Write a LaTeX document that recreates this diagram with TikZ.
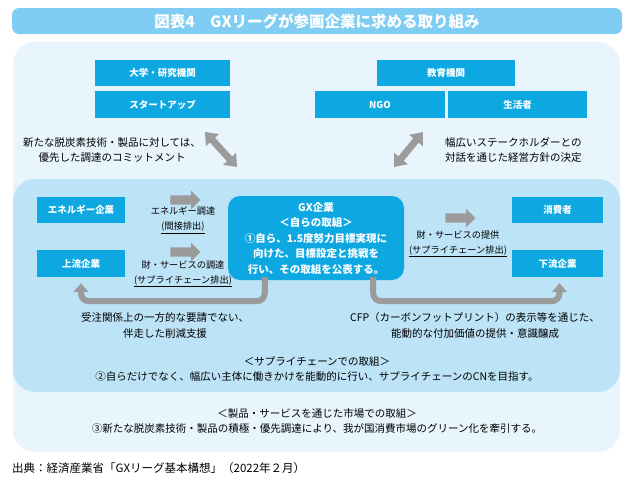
\documentclass[tikz,border=0pt]{standalone}
\usepackage{fontspec}
\setmainfont{Noto Sans CJK JP}
\usetikzlibrary{arrows.meta,shapes.arrows,calc}
\definecolor{boxblue}{HTML}{0DA8E2}
\definecolor{titleblue}{HTML}{7FCDF2}
\definecolor{outerbg}{HTML}{E8F5FD}
\definecolor{innerbg}{HTML}{BDE3F7}
\definecolor{arrgray}{HTML}{9B9B9B}
\begin{document}
\begin{tikzpicture}[x=1pt,y=-1pt,
  cbox/.style={fill=boxblue, text=white, font=\fontsize{9.5}{11}\selectfont\bfseries, inner sep=0pt, minimum height=26pt},
  txt/.style={font=\fontsize{10.5}{15.5}\selectfont, align=center, inner sep=0pt, text=black},
  flowtxt/.style={txt, font=\fontsize{9.2}{15}\selectfont},
  fatarrow/.style={single arrow, fill=arrgray, draw=none, minimum height=30pt, inner sep=0pt, inner ysep=4.5pt, single arrow head extend=4.5pt, single arrow head indent=0pt},
  dbl/.style={arrgray, line width=7pt, {Triangle[width=17pt,length=11pt]}-{Triangle[width=17pt,length=11pt]}},
  uarrow/.style={arrgray, line width=6pt, rounded corners=8pt, -{Triangle[width=15pt,length=9pt]}}
]
\useasboundingbox (0,0) rectangle (635,488);
\fill[white] (0,0) rectangle (635,488);
% panels
\fill[outerbg, rounded corners=22pt] (13,42) rectangle (620,452);
\fill[innerbg, rounded corners=22pt] (13,179) rectangle (620,392);
% title
\node[fill=titleblue, rounded corners=7pt, minimum width=610pt, minimum height=26pt, inner sep=0pt, text=white, font=\fontsize{15.5}{17}\selectfont\bfseries] (title) at (317,21) {図表4\quad GXリーグが参画企業に求める取り組み};
% top boxes
\node[cbox, minimum width=135pt] (univ) at (162.5,73) {大学・研究機関};
\node[cbox, minimum width=135pt, minimum height=27pt] (start) at (162.5,104.5) {スタートアップ};
\node[cbox, minimum width=138pt] (edu) at (446,73) {教育機関};
\node[cbox, minimum width=130pt, minimum height=27pt] (ngo) at (380,104.5) {NGO};
\node[cbox, minimum width=139pt, minimum height=27pt] (life) at (517.5,104.5) {生活者};
% top texts
\node[txt] (ltxt) at (112,150) {新たな脱炭素技術・製品に対しては、\\優先した調達のコミットメント};
\node[txt, align=left, anchor=west] (rtxt) at (445,150) {幅広いステークホルダーとの\\対話を通じた経営方針の決定};
% double arrows
\coordinate (la1) at (205,132);
\coordinate (la2) at (237,167);
\coordinate (ra1) at (423,132);
\coordinate (ra2) at (394,167);
\draw[dbl] (la1) -- (la2);
\draw[dbl] (ra1) -- (ra2);
% inner row
\node[cbox, minimum width=88pt] (ene) at (81,210) {エネルギー企業};
\node[cbox, minimum width=88pt, minimum height=27pt] (up) at (81,263.5) {上流企業};
\node[cbox, minimum width=91pt] (cons) at (557.5,210) {消費者};
\node[cbox, minimum width=91pt, minimum height=27pt] (down) at (557.5,263.5) {下流企業};
\node[fill=boxblue, rounded corners=12pt, minimum width=176pt, minimum height=84pt, inner sep=0pt, text=white, align=center, font=\fontsize{10.5}{15.5}\selectfont\bfseries] (gx) at (316,238) {GX企業\\＜自らの取組＞\\①自ら、1.5度努力目標実現に\\向けた、目標設定と挑戦を\\行い、その取組を公表する。};
% fat arrows
\node[fatarrow] (a1) at (183,200) {};
\node[fatarrow] (a2) at (183,252) {};
\node[fatarrow] (a3) at (458,218) {};
\node[flowtxt] (t1) at (183,220) {エネルギー調達\\\underline{(間接排出)}};
\node[flowtxt] (t2) at (183,274) {財・サービスの調達\\\underline{(サプライチェーン排出)}};
\node[flowtxt] (t3) at (458,244) {財・サービスの提供\\\underline{(サプライチェーン排出)}};
% U arrows
\draw[uarrow] ($(gx.south west)+(37,-3)$) -- ++(0,24) -| ($(up.south)+(0,6)$);
\draw[uarrow] ($(gx.south east)+(-31,-3)$) -- ++(0,24) -| ($(down.south)+(2,6)$);
% bottom texts
\node[txt] (bl) at (165,325.5) {受注関係上の一方的な要請でない、\\伴走した削減支援};
\node[txt] (br) at (475,325.5) {CFP（カーボンフットプリント）の表示等を通じた、\\能動的な付加価値の提供・意識醸成};
\node[txt] (sc) at (317,369) {＜サプライチェーンでの取組＞\\②自らだけでなく、幅広い主体に働きかけを能動的に行い、サプライチェーンのCNを目指す。};
\node[txt] (mk) at (317,421) {＜製品・サービスを通じた市場での取組＞\\③新たな脱炭素技術・製品の積極・優先調達により、我が国消費市場のグリーン化を牽引する。};
\node[txt, anchor=west, font=\fontsize{11.5}{13}\selectfont] (src) at (12,468) {出典：経済産業省「GXリーグ基本構想」（2022年２月）};
\end{tikzpicture}
\end{document}
